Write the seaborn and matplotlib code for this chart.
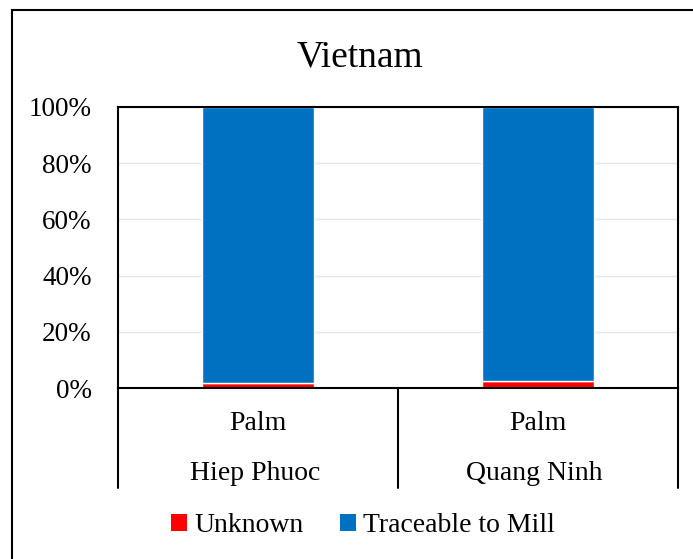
import matplotlib
matplotlib.use("Agg")
import pandas as pd
import seaborn as sns
from matplotlib import pyplot as plt
from matplotlib.patches import Rectangle, Patch
from matplotlib.transforms import blended_transform_factory

# Data (percent of volume)
sites = ['Hiep Phuoc', 'Quang Ninh']
commodity = ['Palm', 'Palm']
unknown = [1.8, 2.4]
traceable = [98.2, 97.6]
series = ['Unknown', 'Traceable to Mill']
colors = ['#FF0000', '#0070C0']
yticks = [0, 20, 40, 60, 80, 100]

df = pd.DataFrame({'site': sites, 'Unknown': unknown, 'Traceable to Mill': traceable})

sns.set_style('white')
plt.rcParams['font.family'] = ['Liberation Serif', 'DejaVu Serif']
plt.rcParams['text.color'] = 'black'
plt.rcParams['ytick.color'] = 'black'

W, H = 693, 559
fig = plt.figure(figsize=(W / 100, H / 100), dpi=100)

# outer chart frame (right/bottom edges are cropped in the reference)
fig.patches.append(Rectangle((12 / W, -0.05), 1.2, 1 - 10 / H + 0.05,
                             transform=fig.transFigure, fill=False,
                             edgecolor='black', linewidth=1.5))

x0, x1, y0, y1 = 118, 678, 107, 388
ax = fig.add_axes([x0 / W, 1 - y1 / H, (x1 - x0) / W, (y1 - y0) / H])

# stacked bars: Unknown at the bottom, Traceable on top
sns.barplot(data=df, x='site', y='Unknown', color=colors[0], width=0.4,
            saturation=1, ax=ax)
sns.barplot(data=df, x='site', y='Traceable to Mill', color=colors[1],
            width=0.4, saturation=1, bottom=df['Unknown'], ax=ax)

ax.set_ylim(0, 100)
ax.set_xlim(-0.5, 1.5)
ax.set_yticks(yticks)
ax.set_yticklabels([f'{v}%' for v in yticks], fontsize=19.5)
ax.tick_params(axis='y', length=0, pad=19)
ax.set_xticks([])
ax.set_xlabel('')
ax.set_ylabel('')
ax.yaxis.grid(True, color='#E6E6E6', linewidth=1)
ax.set_axisbelow(True)
for side in ['top', 'right', 'left', 'bottom']:
    ax.spines[side].set_visible(True)
    ax.spines[side].set_color('black')
    ax.spines[side].set_linewidth(1.5)

# multi-level category axis
trans = blended_transform_factory(ax.transData, fig.transFigure)
for i, (c, s) in enumerate(zip(commodity, sites)):
    ax.text(i, 1 - 424 / H, c, transform=trans, ha='center', va='center',
            fontsize=20, clip_on=False)
    ax.text(i - 0.012, 1 - 474 / H, s, transform=trans, ha='center', va='center',
            fontsize=20, clip_on=False)
for xv in [-0.5, 0.5, 1.5]:
    ax.plot([xv, xv], [1 - y1 / H, 1 - 488 / H], transform=trans,
            color='black', linewidth=1.5, clip_on=False)

fig.text(360 / W, 1 - 57 / H, 'Vietnam', ha='center', va='center', fontsize=27)

handles = [Patch(facecolor=c, edgecolor='none', label=s) for c, s in zip(colors, series)]
fig.legend(handles=handles, loc='center', bbox_to_anchor=(363 / W, 1 - 526 / H),
           ncol=2, frameon=False, fontsize=20, handlelength=0.58,
           handleheight=0.58, handletextpad=0.25, columnspacing=1.3)

fig.savefig('out.png', dpi=100)
